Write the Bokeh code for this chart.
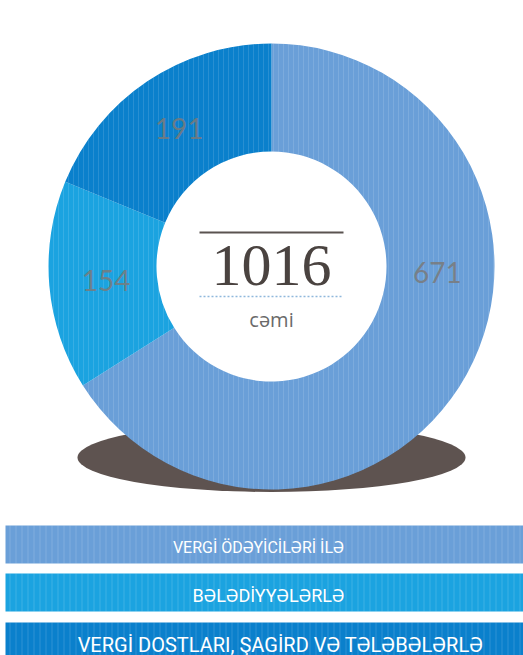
import math
from bokeh.plotting import figure
from bokeh.models import Range1d, ColumnDataSource
from bokeh.core.properties import value
from bokeh.embed import file_html
from bokeh.resources import INLINE

# ---- data ----
categories = ["VERGİ ÖDƏYİCİLƏRİ İLƏ", "BƏLƏDİYYƏLƏRLƏ", "VERGİ DOSTLARI, ŞAGİRD VƏ TƏLƏBƏLƏRLƏ"]
counts = [671, 154, 191]
total_label = "1016"
total_caption = "cəmi"

# ---- style ----
colors = ["#6a9fd8", "#1ba3e0", "#0a80cc"]
W, H = 523, 655
def Y(ypx):
    return H - ypx

p = figure(width=W, height=H, output_backend="svg", toolbar_location=None,
           x_range=Range1d(0, W), y_range=Range1d(0, H),
           min_border=0, outline_line_color=None)
p.axis.visible = False
p.grid.visible = False
p.background_fill_color = "white"
p.border_fill_color = "white"

cx, cy = 271, Y(266)
r_in, r_out = 115, 223

# shadow ellipse under the donut
p.ellipse(x=cx, y=Y(457), width=388, height=69, fill_color="#5e5350", line_color=None)

# donut
total = sum(counts)
starts, ends = [], []
a = math.pi / 2
for c in counts:
    starts.append(a)
    a -= c / total * 2 * math.pi
    ends.append(a)
src = ColumnDataSource(dict(start=starts, end=ends, color=colors))
p.annular_wedge(x=cx, y=cy, inner_radius=r_in, outer_radius=r_out,
                start_angle="start", end_angle="end", direction="clock",
                fill_color="color", line_color=None, source=src,
                hatch_pattern="vertical_line", hatch_color="white", hatch_alpha=0.12, hatch_scale=5)

# slice labels
lx, ly = [], []
r_lab = 166
for i, (s, e) in enumerate(zip(starts, ends)):
    mid = (s + e) / 2
    if i == 0:
        mid = math.radians(-2)  # large slice label sits at 3 o'clock
    lx.append(cx + r_lab * math.cos(mid))
    ly.append(cy + r_lab * math.sin(mid))
p.text(x=lx, y=ly, text=[str(c) for c in counts], text_align="center", text_baseline="middle",
       text_font=value("Lato"), text_font_size="28px", text_color="#7a7a7a", text_alpha=0.85)

# center decoration
p.segment(x0=[199], y0=[Y(232)], x1=[343], y1=[Y(232)], line_color="#5a5350", line_width=2)
p.segment(x0=[199], y0=[Y(296)], x1=[343], y1=[Y(296)], line_color="#8fb8dc", line_width=1.5,
          line_dash="2 2")
p.text(x=[cx], y=[Y(265)], text=[total_label], text_align="center", text_baseline="middle",
       text_font=value("Liberation Serif"), text_font_size="60px", text_color="#4a4340")
p.text(x=[cx], y=[Y(319)], text=[total_caption], text_align="center", text_baseline="middle",
       text_font=value("Open Sans"), text_font_size="20px", text_color="#6a6a6a")

# legend bars
bar_top = [525, 573, 622]
bar_h = 38
bx = [265] * 3
by = [Y(t + bar_h / 2) for t in bar_top]
p.rect(x=bx, y=by, width=520, height=bar_h, fill_color=colors, line_color=None,
       hatch_pattern="vertical_line", hatch_color="white", hatch_alpha=0.15, hatch_scale=6)
lsrc = ColumnDataSource(dict(
    x=[258, 268, 280],
    y=[Y(t + bar_h / 2 + 3) for t in bar_top],
    text=categories,
    size=["16px", "18px", "20px"],
))
p.text(x="x", y="y", text="text", text_font_size="size", source=lsrc,
       text_align="center", text_baseline="middle",
       text_font=value("Roboto"), text_color="white")

open("out.html", "w").write(file_html(p, INLINE))
